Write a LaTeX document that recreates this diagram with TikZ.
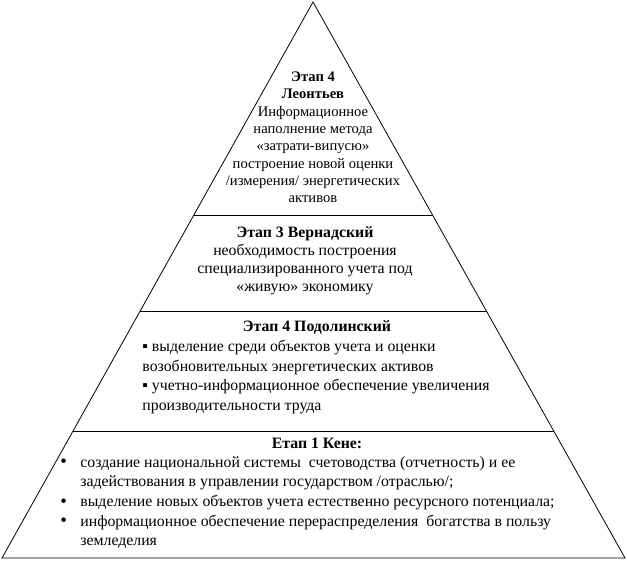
\documentclass[tikz,border=0pt]{standalone}
\usepackage{fontspec}
\setmainfont{Liberation Serif}
\usetikzlibrary{calc}
\tikzset{
  stage/.style={align=center,inner sep=0pt,font=\fontsize{15.8}{17.3}\selectfont},
  stagelist/.style={align=left,inner sep=0pt,anchor=north west,font=\fontsize{15.8}{19.6}\selectfont}
}
\newcommand{\dotitem}{\makebox[20pt][l]{\raisebox{-0.5pt}{\fontsize{19}{19}\selectfont•}}}
\begin{document}
\begin{tikzpicture}[x=1pt,y=-1pt,line width=0.8pt]
  \useasboundingbox (0,0) rectangle (627,562);
  \coordinate (apex) at (313,2);
  \coordinate (bl) at (2,558);
  \coordinate (br) at (625,558);
  \draw (apex) -- (bl) -- (br) -- cycle;
  % levels of the pyramid
  \foreach \f in {0.383,0.556,0.772}
    \draw ($(apex)!\f!(bl)$) -- ($(apex)!\f!(br)$);
  \node[stage,anchor=north,font=\fontsize{14.6}{17.3}\selectfont] (leontiev) at (313,71.5)
    {\textbf{Этап 4}\\\textbf{Леонтьев}\\Информационное\\наполнение метода\\«затрати-випусю»\\построение новой оценки\\/измерения/ энергетических\\активов};
  \node[stage,anchor=north,font=\fontsize{15.8}{18}\selectfont] (vernadsky) at (305,226)
    {\textbf{Этап 3 Вернадский}\\необходимость построения\\специализированного учета под\\«живую» экономику};
  \node[stage,anchor=north] (podolinsky) at (317,320.5) {\textbf{Этап 4 Подолинский}};
  \node[stagelist] (podolinskylist) at (142,340)
    {▪ выделение среди объектов учета и оценки\\возобновительных энергетических активов\\▪ учетно-информационное обеспечение увеличения\\производительности труда};
  \node[stage,anchor=north] (quesnay) at (317,438) {\textbf{Етап 1 Кене:}};
  \node[stagelist] (quesnaylist) at (60,456)
    {\dotitem создание национальной системы\ \ счетоводства (отчетность) и ее\\\hspace*{20pt}задействования в управлении государством /отраслью/;\\\dotitem выделение новых объектов учета естественно ресурсного потенциала;\\\dotitem информационное обеспечение перераспределения\ \ богатства в пользу\\\hspace*{20pt}земледелия};
\end{tikzpicture}
\end{document}
